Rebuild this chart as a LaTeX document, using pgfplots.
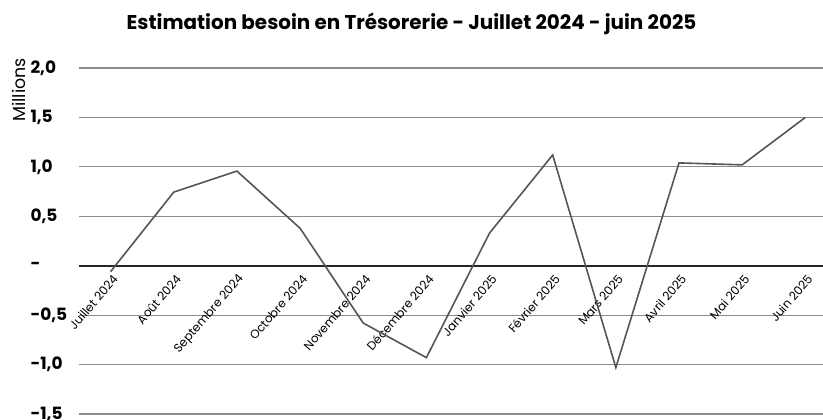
\documentclass[border=0pt]{standalone}
\usepackage{fontspec}
\setmainfont{Poppins}
\usepackage{pgfplots}
\pgfplotsset{compat=1.18}
\definecolor{gridgray}{HTML}{8C8C8C}
\definecolor{linegray}{HTML}{555555}

\begin{document}
\begin{tikzpicture}
\begin{axis}[
  name=ax,
  scale only axis,width=744bp,height=346bp,
  xmin=-0.5,xmax=11.28,ymin=-1.5,ymax=2.0,
  axis x line=middle,axis y line=left,
  x axis line style={-,draw=black!85,line width=1.6bp},
  y axis line style={draw=none},
  xtick=data,
  xticklabels={Juillet 2024,Août 2024,Septembre 2024,Octobre 2024,Novembre 2024,Décembre 2024,Janvier 2025,Février 2025,Mars 2025,Avril 2025,Mai 2025,Juin 2025},
  xticklabel style={rotate=49,anchor=east,font=\fontsize{12}{14}\selectfont,xshift=-2bp,yshift=-11bp},
  ytick={-1.5,-1,-0.5,0,0.5,1,1.5,2},
  yticklabels={{-1,5},{-1,0},{-0,5},-,{0,5},{1,0},{1,5},{2,0}},
  yticklabel style={anchor=west,xshift=-52bp,font=\fontsize{17}{19}\selectfont\bfseries},
  major tick length=0pt,
  ymajorgrids,grid style={draw=gridgray,line width=1.1bp},
  clip=false]
\addplot[linegray,line width=1.6bp,mark=none] coordinates {
(0,-0.06) (1,0.744) (2,0.957) (3,0.379) (4,-0.58) (5,-0.93)
(6,0.33) (7,1.12) (8,-1.03) (9,1.04) (10,1.02) (11,1.50)};
\end{axis}
\node[font=\fontsize{20}{23}\selectfont\bfseries] at ([shift={(332.5bp,44bp)}]ax.north west) {Estimation besoin en Trésorerie - Juillet 2024 - juin 2025};
\node[rotate=90,font=\fontsize{17.5}{20}\selectfont] at ([shift={(-60.5bp,-22bp)}]ax.north west) {Millions};
\pgfresetboundingbox
\path ([shift={(-79bp,-6bp)}]ax.south west) rectangle ([shift={(0bp,68bp)}]ax.north east);
\end{tikzpicture}
\end{document}
